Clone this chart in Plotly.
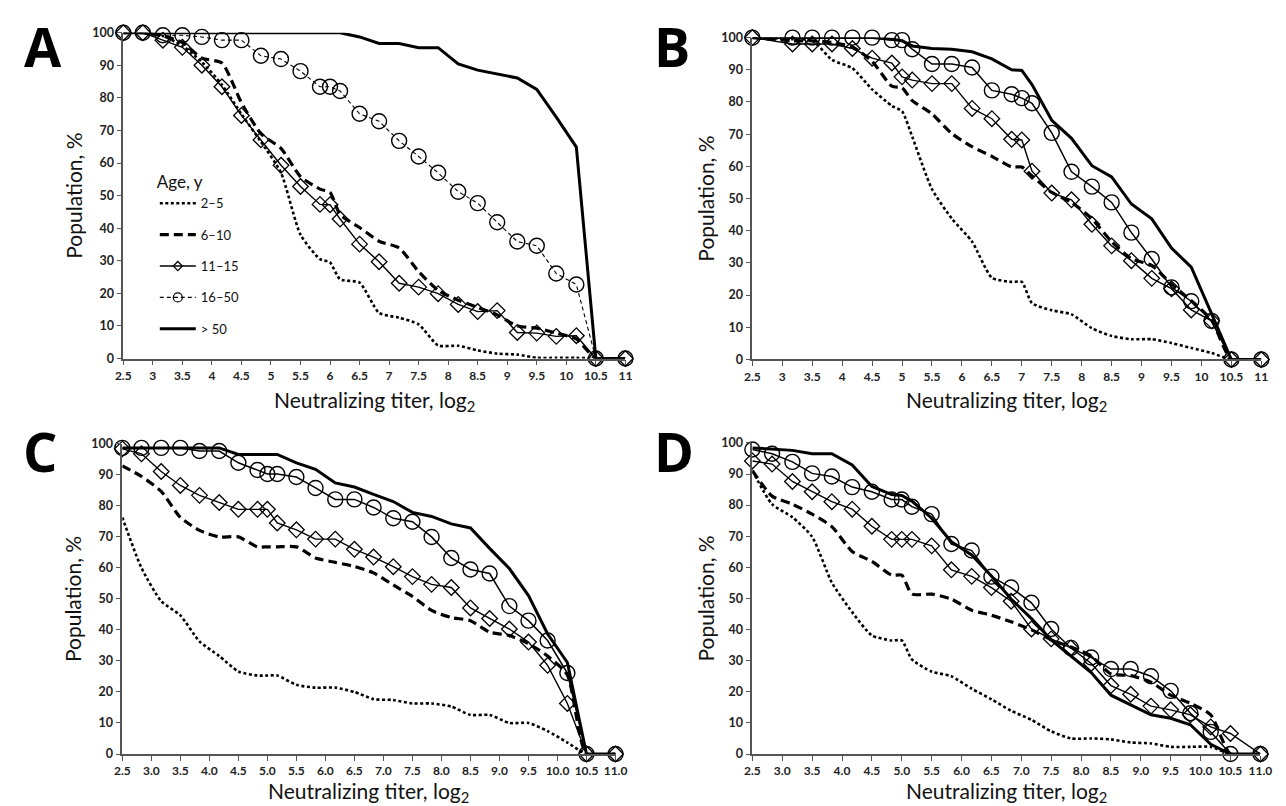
import plotly.graph_objects as go

W, H = 1286, 806

# ---------------- data ----------------
AGE_GROUPS = ["2–5", "6–10", "11–15", "16–50", "> 50"]

X_A = [2.5, 2.83, 3.17, 3.5, 3.83, 4.17, 4.5, 4.83, 5.17, 5.5, 5.83, 6.0, 6.17, 6.5,
       6.83, 7.17, 7.5, 7.83, 8.17, 8.5, 8.83, 9.17, 9.5, 9.83, 10.17, 10.5, 11]
A_2_5 = [100, 100, 99, 96, 91, 84, 75, 66.5, 57, 38, 30.5, 29.5, 24.3, 23.3, 14, 12.5,
         10.5, 4, 3.9, 2.5, 1.5, 1.2, 0.2, 0.2, 0.2, 0, 0]
A_6_10 = [100, 100, 99, 97, 92.2, 90.7, 78.5, 69, 64.5, 55.8, 52, 51, 44.2, 40.2, 36,
          33.9, 26.7, 20.9, 17.9, 15.7, 13.4, 10, 9.3, 7.8, 6, 0, 0]
A_11_15 = [100, 100, 97.7, 95.5, 90, 83.4, 74.6, 67.1, 59.3, 52.8, 47.3, 47.2, 42.8,
           35.1, 29.7, 23.1, 21.9, 19.9, 16.6, 14.4, 14.7, 8, 7.8, 6.8, 7, 0, 0]
A_16_50 = [100, 100, 99.2, 99.2, 98.7, 97.7, 97.7, 92.9, 91.9, 88.2, 83.4, 83.4, 82.1,
           75.1, 72.8, 66.8, 62, 57, 51.2, 47.7, 41.8, 35.9, 34.6, 26.1, 22.7, 0, 0]
A_50 = [100, 100, 100, 100, 100, 100, 100, 100, 100, 100, 100, 100, 100, 98.7, 96.7,
        96.7, 95.4, 95.4, 90.4, 88.5, 87.3, 86.1, 82.6, 74.1, 64.9, 0, 0]

X_B = [2.5, 3.17, 3.5, 3.83, 4.17, 4.5, 4.83, 5.0, 5.17, 5.5, 5.83, 6.17, 6.5, 6.83,
       7.0, 7.17, 7.5, 7.83, 8.17, 8.5, 8.83, 9.17, 9.5, 9.83, 10.17, 10.5, 11]
B_2_5 = [100, 99.5, 99.1, 93.1, 90.5, 83.9, 78.8, 77.1, 69.2, 52.9, 43.8, 36.6, 25.4,
         24.1, 24.1, 17.5, 15.3, 14.0, 9.7, 7.3, 6.3, 6.3, 5.1, 3.6, 2.0, 0, 0]
B_6_10 = [100, 99, 99, 98.5, 97.1, 92.6, 84.9, 84.4, 80.4, 76.3, 70.2, 66.1, 63.1, 59.8,
          59.8, 57.0, 51.9, 48.8, 43.7, 36.6, 31.3, 29.2, 23.4, 18.3, 12.2, 0, 0]
B_11_15 = [100, 98, 98, 98, 96.6, 93.6, 92.1, 87.8, 86.8, 85.7, 85.7, 78.0, 74.8, 68.4,
           68.2, 58.5, 51.7, 49.6, 42.0, 35.3, 30.7, 25.2, 22.0, 15.4, 12.0, 0, 0]
B_16_50 = [100, 100, 100, 100, 100, 100, 99.2, 99.2, 96.4, 91.8, 91.8, 90.7, 83.6, 82.4,
           81.2, 79.6, 70.4, 58.3, 53.7, 48.8, 39.4, 31.2, 22.4, 18.1, 12.0, 0, 0]
B_50 = [100, 100, 100, 100, 100, 100, 99.5, 99, 97.4, 96.6, 96.4, 95.6, 93.4, 90.0,
        89.8, 85.4, 74.3, 68.7, 60.2, 56.7, 48.3, 43.7, 34.6, 28.7, 14.2, 0, 0]

X_CD = [2.5, 2.83, 3.17, 3.5, 3.83, 4.17, 4.5, 4.83, 5.0, 5.17, 5.5, 5.83, 6.17, 6.5,
        6.83, 7.17, 7.5, 7.83, 8.17, 8.5, 8.83, 9.17, 9.5, 9.83, 10.17, 10.5, 11]
C_2_5 = [76.3, 60, 49.3, 44.7, 36.3, 31.6, 26.6, 25.3, 25.3, 25.3, 22.3, 21.4, 21.4, 20,
         17.7, 17.4, 16.3, 16.3, 15.3, 12.6, 12.6, 10, 10, 7.4, 3.7, 0, 0]
C_6_10 = [92.9, 89.5, 84.7, 76.3, 72.1, 70, 70, 66.8, 66.8, 66.8, 66.8, 63.2, 61.8, 60.5,
          58.4, 54.5, 50.8, 46.3, 44, 43, 39.3, 38.2, 35.6, 31.6, 25.5, 0, 0]
C_11_15 = [98.4, 96.8, 91.1, 86.6, 83.4, 81.1, 78.9, 78.9, 78.9, 74.5, 72.3, 69.3, 69.3,
           66.0, 63.5, 60.4, 57.2, 54.7, 53.7, 47.1, 43.7, 40.3, 36.1, 28.6, 16.3, 0, 0]
C_16_50 = [98.7, 98.7, 98.7, 98.7, 97.7, 97.7, 93.9, 91.6, 90.3, 90.3, 89.3, 85.8, 82.1,
           82.1, 79.5, 76.0, 74.9, 70.0, 63.2, 59.5, 58.2, 47.7, 43.0, 36.6, 26.1, 0, 0]
C_50 = [98.7, 98.7, 98.7, 98.7, 98.7, 98.7, 96.6, 96.6, 96.6, 96.6, 93.9, 91.8, 87.4,
        86.1, 83.7, 81.4, 77.9, 76.6, 74.2, 72.9, 66.3, 59.8, 51.1, 38.7, 29.5, 0, 0]

D_2_5 = [91.1, 80.3, 76.1, 69.8, 55.1, 45.6, 38.1, 36.5, 36.5, 30.4, 26.5, 25.0, 21.0,
         17.6, 13.9, 11.0, 7.3, 5.0, 5.0, 4.7, 3.7, 3.4, 2.3, 2.3, 2.3, 0, 0]
D_6_10 = [91.1, 82.9, 80.3, 77.1, 73.1, 65.1, 61.9, 57.5, 57.5, 51.4, 51.4, 49.8, 46.2,
          44.6, 42.5, 39.9, 36.7, 34.4, 31.5, 25.7, 25.2, 23.1, 18.9, 16.3, 12.6, 0, 0]
D_11_15 = [94.2, 93.2, 87.6, 84.3, 81.1, 78.7, 73.2, 69.0, 69.0, 69.0, 66.9, 59.2, 57.1,
           53.5, 49.1, 40.2, 37.0, 34.1, 29.1, 22.0, 19.2, 15.4, 14.2, 12.6, 8.7, 6.6, 0]
D_16_50 = [97.9, 96.5, 93.9, 90.2, 89.2, 85.8, 84.3, 81.8, 81.8, 79.5, 77.1, 67.5, 65.4,
           57.0, 53.5, 48.6, 40.2, 34.1, 31.0, 27.3, 27.3, 25.0, 20.3, 13.1, 7.1, 0, 0]
D_50 = [98.4, 97.9, 97.6, 96.5, 96.5, 92.9, 86.0, 83.4, 83.1, 81.3, 75.8, 68.2, 64.0,
        57.2, 49.8, 43.5, 36.7, 31.5, 26.2, 18.9, 15.7, 12.6, 11.5, 9.4, 3.1, 0, 0]

X_TICKS = [2.5, 3, 3.5, 4, 4.5, 5, 5.5, 6, 6.5, 7, 7.5, 8, 8.5, 9, 9.5, 10, 10.5, 11]
X_TICKTEXT_AB = ["2.5", "3", "3.5", "4", "4.5", "5", "5.5", "6", "6.5", "7", "7.5", "8",
                 "8.5", "9", "9.5", "10", "10.5", "11"]
X_TICKTEXT_CD = ["2.5", "3.0", "3.5", "4.0", "4.5", "5.0", "5.5", "6.0", "6.5", "7.0",
                 "7.5", "8.0", "8.5", "9.0", "9.5", "10.0", "10.5", "11.0"]
Y_TICKS = [0, 10, 20, 30, 40, 50, 60, 70, 80, 90, 100]

PANELS = [
    ("A", X_A, [A_2_5, A_6_10, A_11_15, A_16_50, A_50], X_TICKTEXT_AB),
    ("B", X_B, [B_2_5, B_6_10, B_11_15, B_16_50, B_50], X_TICKTEXT_AB),
    ("C", X_CD, [C_2_5, C_6_10, C_11_15, C_16_50, C_50], X_TICKTEXT_CD),
    ("D", X_CD, [D_2_5, D_6_10, D_11_15, D_16_50, D_50], X_TICKTEXT_CD),
]

# ---------------- layout geometry (pixels) ----------------
# (x of 2.5, x of 11, y of 100, y of 0)
GEOM = {
    "A": (109, 619, 17, 349),
    "B": (748, 1265, 22, 350),
    "C": (108, 609, 436, 752),
    "D": (748, 1264, 435, 752),
}
LETTER_POS = {"A": (27, 31), "B": (666, 31), "C": (24, 443), "D": (668, 443)}
XTITLE_Y = {"A": 392, "B": 392, "C": 791, "D": 791}
YTITLE_X = {"A": 58, "B": 700, "C": 58, "D": 700}

FONT = "Lato, 'Open Sans', sans-serif"

fig = go.Figure()

axis_names = {"A": ("x", "y"), "B": ("x2", "y2"), "C": ("x3", "y3"), "D": ("x4", "y4")}


def style(gi, letter, legend=False):
    if gi == 0:
        return "lines", dict(color="black", width=2.6, dash="3px,2.5px", shape="spline", smoothing=0.6), None
    if gi == 1:
        return "lines", dict(color="black", width=3.2, dash="9px,5px", shape="spline", smoothing=0.6), None
    if gi == 2:
        return ("lines+markers", dict(color="black", width=1.4),
                dict(symbol="diamond-open", size=7 if legend else 12, color="black",
                     line=dict(width=1.2 if legend else 1.3)))
    if gi == 3:
        if letter == "A":
            line = dict(color="black", width=1.1, dash="4px,3px")
        else:
            line = dict(color="black", width=1.5)
        return ("lines+markers", line,
                dict(symbol="circle-open", size=9 if legend else 15, color="black",
                     line=dict(width=1.2 if legend else 1.4)))
    return "lines", dict(color="black", width=3.0), None


for letter, xs, series, ticktext in PANELS:
    xa, ya = axis_names[letter]
    for gi, (name, ys) in enumerate(zip(AGE_GROUPS, series)):
        mode, line, marker = style(gi, letter)
        tr = dict(x=xs, y=ys, mode=mode, name=name, line=line, xaxis=xa, yaxis=ya,
                  showlegend=False, cliponaxis=False, hoverinfo="x+y+name")
        if marker:
            tr["marker"] = marker
        fig.add_trace(go.Scatter(**tr))

# legend entries (panel A key, small symbols as in the reference)
for gi, name in enumerate(AGE_GROUPS):
    mode, line, marker = style(gi, "A", legend=True)
    if gi in (0, 1):
        line = dict(color=line["color"], width=line["width"], dash=line["dash"])
    tr = dict(x=[None], y=[None], mode=mode, name=name, line=line, xaxis="x", yaxis="y",
              showlegend=True, legendgroup=f"g{gi}", hoverinfo="skip")
    if marker:
        tr["marker"] = marker
    fig.add_trace(go.Scatter(**tr))

layout = dict(
    width=W, height=H,
    margin=dict(l=0, r=0, t=0, b=0),
    paper_bgcolor="white", plot_bgcolor="white",
    font=dict(family=FONT, color="#222"),
    showlegend=True,
    legend=dict(
        x=141 / W, y=1 - 153 / H, xanchor="left", yanchor="top",
        bgcolor="rgba(0,0,0,0)", font=dict(size=13, family=FONT, color="#111"),
        title=dict(text="Age, y", font=dict(size=17, family=FONT, color="#111")),
        tracegroupgap=11.5, itemwidth=36, traceorder="grouped",
    ),
)

annotations = []
for letter, xs, series, ticktext in PANELS:
    xa, ya = axis_names[letter]
    x0, x1, y100, y0 = GEOM[letter]
    xkey = "xaxis" if xa == "x" else "xaxis" + xa[1:]
    ykey = "yaxis" if ya == "y" else "yaxis" + ya[1:]
    layout[xkey] = dict(
        domain=[x0 / W, x1 / W], range=[2.5, 11], anchor=ya,
        tickvals=X_TICKS, ticktext=ticktext, ticks="outside", ticklen=5,
        tickcolor="#555", tickwidth=1.3, showline=True, linecolor="#555", linewidth=1.6,
        showgrid=False, zeroline=False, fixedrange=True,
        tickfont=dict(size=12, family=FONT, color="#222", weight="bold"),
    )
    layout[ykey] = dict(
        domain=[1 - y0 / H, 1 - y100 / H], range=[0, 100], anchor=xa,
        tickvals=Y_TICKS, ticks="outside", ticklen=5,
        tickcolor="#555", tickwidth=1.3, showline=True, linecolor="#555", linewidth=1.6,
        showgrid=False, zeroline=False, fixedrange=True,
        tickfont=dict(size=12.5, family=FONT, color="#222", weight="bold"),
    )
    lx, ly = LETTER_POS[letter]
    annotations.append(dict(
        text=f"<b>{letter}</b>", x=lx / W, y=1 - ly / H, xref="paper", yref="paper",
        showarrow=False, xanchor="center", yanchor="middle",
        font=dict(size=54, family="'Open Sans', Lato, sans-serif", color="black"),
    ))
    annotations.append(dict(
        text="Neutralizing titer, log<sub>2</sub>", x=((x0 + x1) / 2) / W,
        y=1 - XTITLE_Y[letter] / H,
        xref="paper", yref="paper", showarrow=False, xanchor="center", yanchor="middle",
        font=dict(size=21, family=FONT, color="#111"),
    ))
    annotations.append(dict(
        text="Population, %", x=YTITLE_X[letter] / W, y=1 - ((y0 + y100) / 2) / H,
        xref="paper", yref="paper",
        showarrow=False, textangle=-90, xanchor="center", yanchor="middle",
        font=dict(size=21, family=FONT, color="#111"),
    ))

layout["annotations"] = annotations
fig.update_layout(**layout)

fig.write_html("out.html")
